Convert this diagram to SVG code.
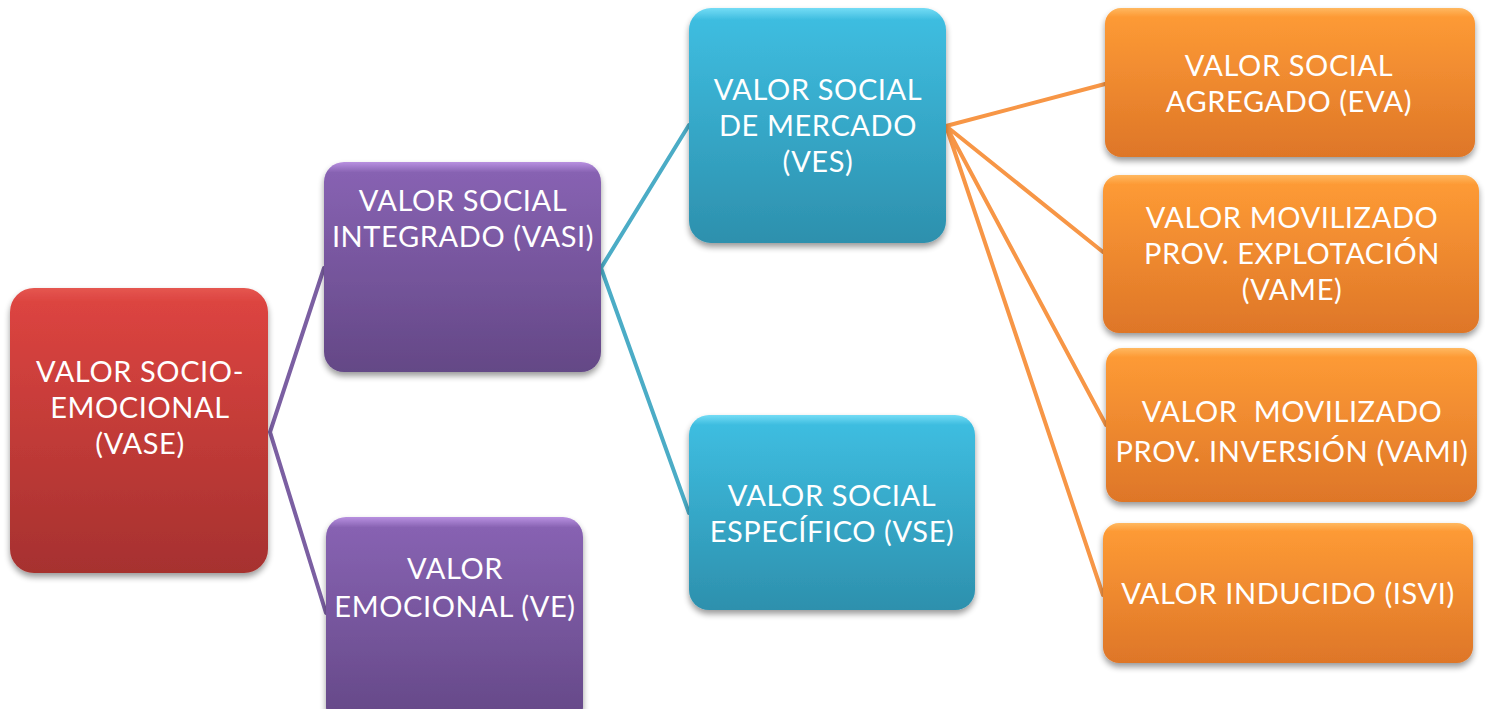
<svg xmlns="http://www.w3.org/2000/svg" width="1485" height="709" viewBox="0 0 1485 709">
<defs>
<linearGradient id="gRed" x1="0" y1="0" x2="0" y2="1"><stop offset="0" stop-color="#e55650"/><stop offset="0.05" stop-color="#dc4440"/><stop offset="1" stop-color="#a6312f"/></linearGradient>
<linearGradient id="gPur" x1="0" y1="0" x2="0" y2="1"><stop offset="0" stop-color="#b890e0"/><stop offset="0.05" stop-color="#8762b2"/><stop offset="1" stop-color="#644886"/></linearGradient>
<linearGradient id="gCyan" x1="0" y1="0" x2="0" y2="1"><stop offset="0" stop-color="#74dcf5"/><stop offset="0.05" stop-color="#3ebde0"/><stop offset="1" stop-color="#2d90ad"/></linearGradient>
<linearGradient id="gOr" x1="0" y1="0" x2="0" y2="1"><stop offset="0" stop-color="#ffb860"/><stop offset="0.06" stop-color="#fd9a35"/><stop offset="1" stop-color="#de7628"/></linearGradient>
<filter id="sh" x="-10%" y="-10%" width="120%" height="125%">
<feGaussianBlur in="SourceAlpha" stdDeviation="3"/>
<feOffset dx="0" dy="4" result="b"/>
<feComponentTransfer><feFuncA type="linear" slope="0.4"/></feComponentTransfer>
<feMerge><feMergeNode/><feMergeNode in="SourceGraphic"/></feMerge>
</filter>
</defs>
<style>
.t{font-family:Lato,"Open Sans",sans-serif;font-size:29px;letter-spacing:0.6px;fill:#ffffff;text-anchor:middle}
.box{filter:url(#sh)}
.c{fill:none;stroke-width:4;stroke-linecap:round}
</style>
<g id="connectors">
<path class="c" stroke="#7b5fa2" d="M324,268 L270,432 L326,613"/>
<path class="c" stroke="#4bacc6" d="M689,125 L601,268 L689,513"/>
<path class="c" stroke="#f79646" d="M1105,84 L946,126 L1103,252 M946,126 L1106,425 M946,126 L1103,595"/>
</g>
<g id="vase">
<rect class="box" x="10" y="288" width="258" height="285" rx="24" fill="url(#gRed)"/>
<text class="t" x="140" y="382">VALOR SOCIO-</text>
<text class="t" x="140" y="418">EMOCIONAL</text>
<text class="t" x="140" y="454">(VASE)</text>
</g>
<g id="vasi">
<rect class="box" x="324" y="162" width="277" height="210" rx="20" fill="url(#gPur)"/>
<text class="t" x="463" y="211">VALOR SOCIAL</text>
<text class="t" x="463" y="247">INTEGRADO (VASI)</text>
</g>
<g id="ve">
<rect class="box" x="326" y="517" width="257" height="210" rx="20" fill="url(#gPur)"/>
<text class="t" x="455" y="579">VALOR</text>
<text class="t" x="455" y="617">EMOCIONAL (VE)</text>
</g>
<g id="ves">
<rect class="box" x="689" y="8" width="257" height="235" rx="22" fill="url(#gCyan)"/>
<text class="t" x="818" y="100">VALOR SOCIAL</text>
<text class="t" x="818" y="136">DE MERCADO</text>
<text class="t" x="818" y="172">(VES)</text>
</g>
<g id="vse">
<rect class="box" x="689" y="415" width="286" height="195" rx="20" fill="url(#gCyan)"/>
<text class="t" x="832" y="506">VALOR SOCIAL</text>
<text class="t" x="832" y="542">ESPECÍFICO (VSE)</text>
</g>
<g id="eva">
<rect class="box" x="1105" y="8" width="370" height="149" rx="16" fill="url(#gOr)"/>
<text class="t" x="1289" y="76">VALOR SOCIAL</text>
<text class="t" x="1289" y="112">AGREGADO (EVA)</text>
</g>
<g id="vame">
<rect class="box" x="1103" y="175" width="376" height="158" rx="16" fill="url(#gOr)"/>
<text class="t" x="1292" y="228">VALOR MOVILIZADO</text>
<text class="t" x="1292" y="264">PROV. EXPLOTACIÓN</text>
<text class="t" x="1292" y="300">(VAME)</text>
</g>
<g id="vami">
<rect class="box" x="1106" y="348" width="371" height="154" rx="16" fill="url(#gOr)"/>
<text class="t" x="1292" y="422" xml:space="preserve">VALOR  MOVILIZADO</text>
<text class="t" x="1292" y="462">PROV. INVERSIÓN (VAMI)</text>
</g>
<g id="isvi">
<rect class="box" x="1103" y="523" width="370" height="140" rx="16" fill="url(#gOr)"/>
<text class="t" x="1288" y="604">VALOR INDUCIDO (ISVI)</text>
</g>
</svg>
